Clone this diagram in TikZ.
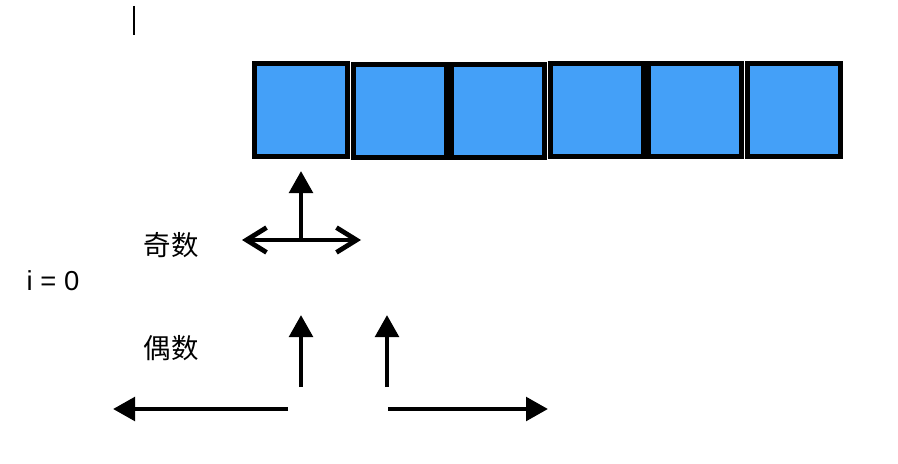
\documentclass[tikz,border=0pt]{standalone}
\usepackage{fontspec}
\setmainfont{Liberation Sans}
\newfontfamily\cjk{Noto Sans CJK SC}
\usetikzlibrary{arrows.meta}
\definecolor{cellblue}{RGB}{68,160,248}

\tikzset{
	cell/.style={draw=black,fill=cellblue,line width=3.5pt,minimum size=2.33cm,inner sep=0pt},
	pointer/.style={line width=3.4pt,-{Triangle[length=0.55cm,width=0.58cm]}},
	spread/.style={line width=3.4pt,{Straight Barb[length=0.5cm,width=0.62cm]}-{Straight Barb[length=0.5cm,width=0.62cm]}},
	label/.style={font=\fontsize{19.5}{22}\selectfont,inner sep=0pt}
}

\begin{document}
\begin{tikzpicture}[x=0.025cm,y=-0.025cm]
		\useasboundingbox (0,0) rectangle (898,464);
		% cursor mark
		\coordinate (cur1) at (134,6);
		\coordinate (cur2) at (134,35);
		\draw[line width=1.4pt] (cur1) -- (cur2);
		% array cells
		\node[cell] (c1) at (301.3,110) {};
		\node[cell] (c2) at (399.8,111) {};
		\node[cell] (c3) at (498.3,111) {};
		\node[cell] (c4) at (596.8,110) {};
		\node[cell] (c5) at (695.3,110) {};
		\node[cell] (c6) at (793.8,110) {};
		% labels
		\node[label] (odd) at (171,245) {\cjk 奇数};
		\node[label] (idx) at (53,281) {i = 0};
		\node[label] (even) at (171,348) {\cjk 偶数};
		% odd case
		\coordinate (o0) at (301,240);
		\coordinate (oup) at (301,171);
		\coordinate (oleft) at (242,240);
		\coordinate (oright) at (361,240);
		\draw[pointer] (o0) -- (oup);
		\draw[spread] (oleft) -- (oright);
		% even case
		\coordinate (e1) at (301,387);
		\coordinate (e1up) at (301,315);
		\coordinate (e2) at (387,387);
		\coordinate (e2up) at (387,315);
		\draw[pointer] (e1) -- (e1up);
		\draw[pointer] (e2) -- (e2up);
		\coordinate (l0) at (288,409);
		\coordinate (l1) at (113,409);
		\coordinate (r0) at (388,409);
		\coordinate (r1) at (548,409);
		\draw[pointer] (l0) -- (l1);
		\draw[pointer] (r0) -- (r1);
\end{tikzpicture}
\end{document}
